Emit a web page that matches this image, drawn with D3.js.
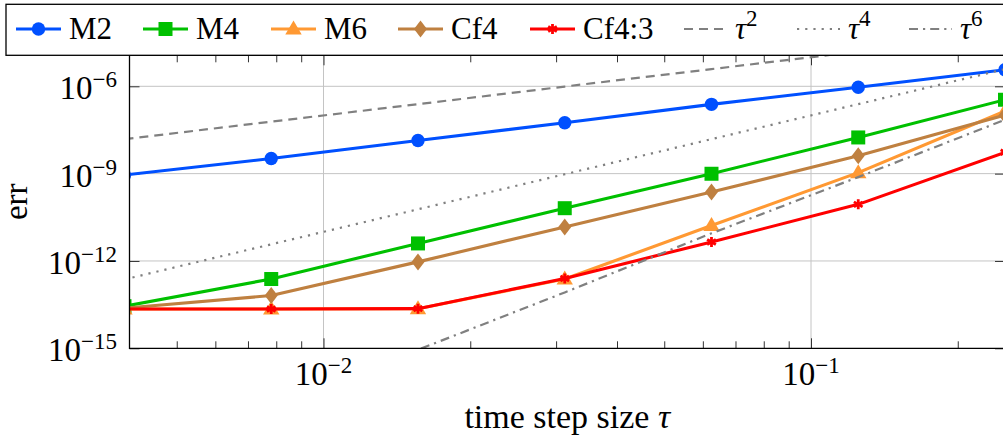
<!DOCTYPE html>
<html>
<head>
<meta charset="utf-8">
<script src="https://cdn.jsdelivr.net/npm/d3@7"></script>
<style>
  html, body { margin: 0; padding: 0; background: #fff; }
  svg { display: block; }
  svg text { font-family: 'Liberation Serif', 'Times New Roman', Times, 'DejaVu Serif', serif; fill: #000; }
</style>
</head>
<body>
<svg id="chart" width="1003" height="439" font-family="Liberation Serif, Times New Roman, DejaVu Serif, serif"></svg>
<script>
// ---- data ----
const tau   = [0.00390625, 0.0078125, 0.015625, 0.03125, 0.0625, 0.125, 0.25];
const m2    = [9.0e-10, 3.3e-9, 1.38e-8, 5.6e-8, 2.4e-7, 9.3e-7, 3.7e-6];
const m4    = [2.8e-14, 2.4e-13, 4.0e-12, 6.5e-11, 9.9e-10, 1.75e-8, 3.45e-7];
const m6    = [2.25e-14, 2.25e-14, 2.3e-14, 2.4e-13, 1.66e-11, 1.08e-9, 1.4e-7];
const cf4   = [2.4e-14, 6.5e-14, 9.3e-13, 1.48e-11, 2.32e-10, 4.1e-9, 1.02e-7];
const cf43  = [2.25e-14, 2.25e-14, 2.3e-14, 2.5e-13, 4.5e-12, 8.8e-11, 5.4e-9];
const ref2  = [1.53e-8, 6.1e-8, 2.44e-7, 9.8e-7, 3.9e-6, 1.56e-5, 6.25e-5];
const ref4  = [2.33e-13, 3.73e-12, 5.96e-11, 9.54e-10, 1.53e-8, 2.44e-7, 3.9e-6];
const ref6  = [1.1e-19, 1.0e-17, 8.9e-16, 8.3e-14, 8.9e-12, 7.6e-10, 7.1e-8];

const xMajorTicks = [0.01, 0.1];
const xMajorExp   = ["−2", "−1"];
const xMinorTicks = [0.005, 0.006, 0.007, 0.008, 0.009, 0.02, 0.03, 0.04, 0.05, 0.06, 0.07, 0.08, 0.09, 0.2];
const yMajorTicks = [1e-15, 1e-12, 1e-9, 1e-6];
const yMajorExp   = ["−15", "−12", "−9", "−6"];
const yGridTicks  = [1e-12, 1e-9, 1e-6];

const seriesNames = ["M2", "M4", "M6", "Cf4", "Cf4:3"];
const seriesData  = [m2, m4, m6, cf4, cf43];
const refNames    = ["2", "4", "6"];
const refData     = [ref2, ref4, ref6];

// ---- styles ----
const seriesColors = ["#0050ff", "#00c000", "#ff9933", "#bf8040", "#ff0000"];
const seriesMarks  = ["circle", "square", "triangle", "diamond", "star"];
const refDash      = ["9,6", "2.2,6", "9,5,2.2,5"];
const FONT = "'Liberation Serif', 'Times New Roman', 'DejaVu Serif', serif";

const svg = d3.select("#chart");
const L = 129.5, R = 1005, T = 55.3, B = 348.3;

const x = d3.scaleLog().domain([0.004, 0.25]).range([L, R]);
const y = d3.scaleLog().domain([1e-15, Math.pow(10, -4.935)]).range([B, T]);

svg.append("defs").append("clipPath").attr("id", "clip")
  .append("rect").attr("x", L).attr("y", T).attr("width", R - L).attr("height", B - T);

// grid
const grid = svg.append("g");
grid.selectAll(".gx").data(xMajorTicks).enter().append("line")
  .attr("x1", d => x(d)).attr("x2", d => x(d)).attr("y1", T).attr("y2", B)
  .attr("stroke", "#c4c4c4").attr("stroke-width", 1);
grid.selectAll(".gy").data(yGridTicks).enter().append("line")
  .attr("x1", L).attr("x2", R).attr("y1", d => y(d)).attr("y2", d => y(d))
  .attr("stroke", "#c4c4c4").attr("stroke-width", 1);

// axes ticks (using d3 axes)
function tickAxis(axisFn, scale, vals, size, transform) {
  const g = svg.append("g").attr("transform", transform)
    .call(axisFn(scale).tickValues(vals).tickSizeInner(size).tickSizeOuter(0).tickFormat(""));
  g.select(".domain").remove();
  g.selectAll(".tick line").attr("stroke", "#333").attr("stroke-width", 1);
  return g;
}
tickAxis(d3.axisTop, x, xMajorTicks, 10, `translate(0,${B})`);
tickAxis(d3.axisTop, x, xMinorTicks, 7, `translate(0,${B})`);
tickAxis(d3.axisBottom, x, xMajorTicks, 10, `translate(0,${T})`);
tickAxis(d3.axisBottom, x, xMinorTicks, 7, `translate(0,${T})`);
tickAxis(d3.axisRight, y, yMajorTicks, 10, `translate(${L},0)`);
tickAxis(d3.axisLeft, y, yMajorTicks, 10, `translate(${R},0)`);

// plot content
const plot = svg.append("g").attr("clip-path", "url(#clip)");
const line = d3.line().x((d, i) => x(tau[i])).y(d => y(d));

function drawMark(g, type, color, cx, cy) {
  if (type === "circle") {
    g.append("circle").attr("cx", cx).attr("cy", cy).attr("r", 6.7).attr("fill", color);
  } else if (type === "square") {
    g.append("rect").attr("x", cx - 7).attr("y", cy - 7).attr("width", 14).attr("height", 14).attr("fill", color);
  } else if (type === "triangle") {
    g.append("path").attr("d", `M${cx},${cy - 8.5}L${cx + 8.2},${cy + 5.5}L${cx - 8.2},${cy + 5.5}Z`).attr("fill", color);
  } else if (type === "diamond") {
    g.append("path").attr("d", `M${cx},${cy - 8.5}L${cx + 6.5},${cy}L${cx},${cy + 8.5}L${cx - 6.5},${cy}Z`).attr("fill", color);
  } else if (type === "star") {
    for (let k = 0; k < 3; k++) {
      const a = Math.PI / 2 + k * Math.PI / 3;
      const dx = 5 * Math.cos(a), dy = 5 * Math.sin(a);
      g.append("line").attr("x1", cx - dx).attr("y1", cy - dy).attr("x2", cx + dx).attr("y2", cy + dy)
        .attr("stroke", color).attr("stroke-width", 2.8);
    }
  }
}

seriesData.forEach((vals, si) => {
  const g = plot.append("g");
  g.append("path").datum(vals).attr("d", line)
    .attr("fill", "none").attr("stroke", seriesColors[si]).attr("stroke-width", 3.1)
    .attr("stroke-linejoin", "round");
  vals.forEach((v, i) => drawMark(g, seriesMarks[si], seriesColors[si], x(tau[i]), y(v)));
});

refData.forEach((vals, ri) => {
  plot.append("path").datum(vals).attr("d", line)
    .attr("fill", "none").attr("stroke", "#808080").attr("stroke-width", 2.2)
    .attr("stroke-dasharray", refDash[ri]);
});

// frame
svg.append("path").attr("d", `M${R + 2},${T}H${L}V${B}H${R + 2}`)
  .attr("fill", "none").attr("stroke", "#000").attr("stroke-width", 1.3);
svg.append("line").attr("x1", R).attr("x2", R).attr("y1", T).attr("y2", B)
  .attr("stroke", "#000").attr("stroke-width", 1.3);

function txt(sel) { return sel.append("text").attr("font-family", FONT); }

// tick labels
const FS = 31, TFS = 33, SFS = 23;
yMajorTicks.forEach((v, i) => {
  const t = txt(svg).attr("x", 117).attr("y", y(v) + 13).attr("text-anchor", "end").attr("font-size", TFS);
  t.append("tspan").text("10");
  t.append("tspan").attr("dy", -12).attr("font-size", SFS).text(yMajorExp[i]);
});
xMajorTicks.forEach((v, i) => {
  const t = txt(svg).attr("x", x(v)).attr("y", 385).attr("text-anchor", "middle").attr("font-size", TFS);
  t.append("tspan").text("10");
  t.append("tspan").attr("dy", -12).attr("font-size", SFS).text(xMajorExp[i]);
});

// axis labels
const xl = txt(svg).attr("x", (L + R) / 2).attr("y", 428).attr("text-anchor", "middle").attr("font-size", 34);
xl.append("tspan").text("time step size ");
xl.append("tspan").attr("font-style", "italic").text("τ");
txt(svg).attr("transform", `translate(27,${(T + B) / 2}) rotate(-90)`)
  .attr("text-anchor", "middle").attr("font-size", 33).text("err");

// legend
svg.append("rect").attr("x", 6).attr("y", 4.3).attr("width", 1020).attr("height", 51)
  .attr("fill", "#fff").attr("stroke", "#000").attr("stroke-width", 1.3);
const legX = [16, 143, 271, 398, 530, 684, 797, 909];
const legBase = 39;
seriesNames.forEach((name, i) => {
  const g = svg.append("g");
  const x0 = legX[i];
  g.append("line").attr("x1", x0).attr("x2", x0 + 45).attr("y1", 29).attr("y2", 29)
    .attr("stroke", seriesColors[i]).attr("stroke-width", 3.1);
  drawMark(g, seriesMarks[i], seriesColors[i], x0 + 22.5, 29);
  txt(g).attr("x", x0 + 53).attr("y", legBase).attr("font-size", FS).text(name);
});
refNames.forEach((p, i) => {
  const x0 = legX[5 + i];
  svg.append("line").attr("x1", x0).attr("x2", x0 + 43).attr("y1", 29).attr("y2", 29)
    .attr("stroke", "#808080").attr("stroke-width", 2.2).attr("stroke-dasharray", refDash[i]);
  const t = txt(svg).attr("x", x0 + 51).attr("y", legBase).attr("font-size", FS);
  t.append("tspan").attr("font-style", "italic").text("τ");
  t.append("tspan").attr("dy", -13).attr("font-size", SFS).text(p);
});
</script>
</body>
</html>
